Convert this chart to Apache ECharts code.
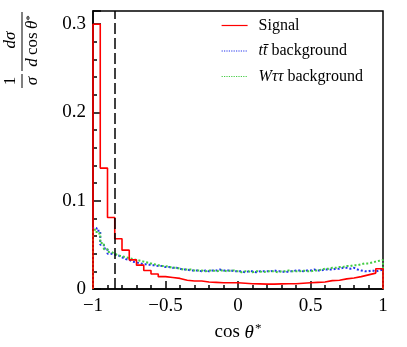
<!DOCTYPE html>
<html>
<head>
<meta charset="utf-8">
<script src="https://cdn.jsdelivr.net/npm/echarts@6/dist/echarts.min.js"></script>
<style>
html, body { margin: 0; padding: 0; background: #fff; }
#chart { width: 407px; height: 347px; }
</style>
</head>
<body>
<div id="chart"></div>
<script>
// cos theta* distributions, normalised
var xLow = -1;
var signalBinWidth = 0.05;
var bgBinWidth = 0.025;
var cutValue = -0.85;

var signal = [
  0.300, 0.137, 0.081, 0.057, 0.044, 0.033, 0.027, 0.021, 0.017, 0.014,
  0.013, 0.012, 0.010, 0.009, 0.009, 0.008, 0.0075, 0.007, 0.007, 0.007,
  0.0065, 0.006, 0.0058, 0.0055, 0.0055, 0.0058, 0.006, 0.006, 0.0065, 0.007,
  0.0075, 0.008, 0.0095, 0.010, 0.0115, 0.0125, 0.014, 0.016, 0.018, 0.023
];

var ttbar = [
  0.069, 0.066, 0.050, 0.046, 0.040, 0.039, 0.038, 0.036, 0.034, 0.033,
  0.031, 0.030, 0.029, 0.028, 0.028, 0.027, 0.027, 0.026, 0.026, 0.025,
  0.025, 0.024, 0.024, 0.023, 0.022, 0.022, 0.021, 0.021,
  0.021, 0.020, 0.021, 0.020, 0.021, 0.021, 0.022, 0.021,
  0.021, 0.021, 0.020, 0.020,
  0.020, 0.019, 0.020, 0.020, 0.019, 0.020, 0.020, 0.020,
  0.020, 0.021, 0.020, 0.020, 0.019, 0.020, 0.020, 0.021,
  0.021, 0.020, 0.021, 0.021, 0.022, 0.021, 0.021, 0.022,
  0.022, 0.022, 0.023, 0.023, 0.024, 0.024, 0.023, 0.024,
  0.022, 0.021, 0.020, 0.020, 0.021, 0.020, 0.021, 0.022
];

var wtautau = [
  0.067, 0.063, 0.052, 0.045, 0.042, 0.040, 0.038, 0.037, 0.036, 0.035,
  0.034, 0.033, 0.032, 0.031, 0.030, 0.029, 0.028, 0.027, 0.026, 0.026,
  0.025, 0.024, 0.024, 0.023, 0.022, 0.022, 0.022, 0.021,
  0.021, 0.021, 0.020, 0.021, 0.021, 0.020, 0.021, 0.021,
  0.020, 0.021, 0.021, 0.020,
  0.019, 0.020, 0.020, 0.019, 0.020, 0.020, 0.019, 0.020,
  0.020, 0.020, 0.019, 0.020, 0.020, 0.021, 0.020, 0.020,
  0.020, 0.021, 0.020, 0.020, 0.021, 0.021, 0.022, 0.023,
  0.023, 0.024, 0.024, 0.025, 0.025, 0.026, 0.026, 0.027,
  0.027, 0.028, 0.029, 0.029, 0.030, 0.031, 0.032, 0.033
];

var xTickLabels = ['\u22121', '\u22120.5', '0', '0.5', '1'];
var yTickLabels = ['0', '0.1', '0.2', '0.3'];

var legendNames = ['Signal', 'ttbar', 'Wtautau'];
var legendTexts = {
  'Signal': 'Signal',
  'ttbar': '{i|t\u0074\u0304} background',
  'Wtautau': '{i|W\u03c4\u03c4} background'
};

// step outline of a histogram
function histPoints(vals, lo, w) {
  var pts = [[lo, 0]];
  for (var i = 0; i < vals.length; i++) {
    pts.push([lo + i * w, vals[i]]);
  }
  var hi = lo + vals.length * w;
  pts.push([hi, vals[vals.length - 1]]);
  pts.push([hi, 0]);
  return pts;
}

var serif = '"Liberation Serif", "DejaVu Serif", serif';
var chart = echarts.init(document.getElementById('chart'));

var option = {
  animation: false,
  grid: {
    left: 93, right: 24, top: 11, bottom: 54,
    show: true, borderColor: '#000', borderWidth: 1.5, backgroundColor: 'transparent'
  },
  legend: {
    orient: 'vertical',
    left: 216,
    top: 12,
    itemWidth: 26,
    itemHeight: 14,
    itemGap: 8.5,
    data: legendNames,
    itemStyle: { opacity: 0 },
    lineStyle: { width: 1.2 },
    formatter: function (name) { return legendTexts[name]; },
    textStyle: {
      fontFamily: serif, fontSize: 16, lineHeight: 17, color: '#000', padding: [0, 0, 0, 6],
      rich: { i: { fontFamily: serif, fontSize: 16, lineHeight: 17, fontStyle: 'italic', color: '#000' } }
    }
  },
  xAxis: {
    type: 'value',
    min: -1, max: 1, interval: 0.5,
    name: '{r|cos }{i|\u03b8}{s|*}',
    nameLocation: 'middle',
    nameGap: 33,
    nameTextStyle: {
      rich: {
        r: { fontFamily: serif, fontSize: 19, color: '#000' },
        i: { fontFamily: serif, fontSize: 19, fontStyle: 'italic', color: '#000' },
        s: { fontFamily: serif, fontSize: 13, color: '#000', verticalAlign: 'top', padding: [0, 0, 8, 1] }
      }
    },
    axisLine: { onZero: false, lineStyle: { color: '#000', width: 1.5 } },
    axisTick: { inside: true, length: 8, lineStyle: { color: '#000', width: 1.5 } },
    minorTick: { show: true, splitNumber: 5, length: 4, lineStyle: { color: '#000', width: 1.5 } },
    splitLine: { show: false },
    axisLabel: {
      margin: 8,
      fontFamily: serif, fontSize: 19, color: '#000',
      formatter: function (v) { return xTickLabels[Math.round((v + 1) * 2)]; }
    }
  },
  yAxis: {
    type: 'value',
    min: 0, max: 0.315, interval: 0.1,
    axisLine: { show: true, onZero: false, lineStyle: { color: '#000', width: 1.5 } },
    axisTick: { inside: true, length: 8, lineStyle: { color: '#000', width: 1.5 } },
    minorTick: { show: true, splitNumber: 5, length: 4, lineStyle: { color: '#000', width: 1.5 } },
    splitLine: { show: false },
    axisLabel: {
      margin: 7,
      fontFamily: serif, fontSize: 19, color: '#000',
      formatter: function (v) {
        var k = Math.round(v * 10);
        return Math.abs(v * 10 - k) < 1e-6 ? yTickLabels[k] : '';
      }
    }
  },
  graphic: [{
    type: 'group',
    x: 22, y: 90,
    rotation: Math.PI / 2,
    children: [
      { type: 'text', x: 9, y: -11, style: { text: '1', fontFamily: serif, fontSize: 17, fill: '#000', align: 'center', verticalAlign: 'middle', textAlign: 'center', textVerticalAlign: 'middle' } },
      { type: 'line', shape: { x1: 2, y1: 0, x2: 16, y2: 0 }, style: { stroke: '#000', lineWidth: 1 } },
      { type: 'text', x: 9, y: 11, style: { text: '\u03c3', fontFamily: serif, fontSize: 17, fontStyle: 'italic', fill: '#000', align: 'center', verticalAlign: 'middle', textAlign: 'center', textVerticalAlign: 'middle' } },
      { type: 'text', x: 50, y: -11, style: { text: 'd\u03c3', fontFamily: serif, fontSize: 17, fontStyle: 'italic', fill: '#000', align: 'center', verticalAlign: 'middle', textAlign: 'center', textVerticalAlign: 'middle' } },
      { type: 'line', shape: { x1: 19, y1: 0, x2: 78, y2: 0 }, style: { stroke: '#000', lineWidth: 1 } },
      { type: 'text', x: 49, y: 11, style: {
        text: '{i|d} {r|cos} {i|\u03b8}{s|*}',
        align: 'center', verticalAlign: 'middle', textAlign: 'center', textVerticalAlign: 'middle',
        rich: {
          i: { fontFamily: serif, fontSize: 17, fontStyle: 'italic', fill: '#000', color: '#000' },
          r: { fontFamily: serif, fontSize: 17, fill: '#000', color: '#000' },
          s: { fontFamily: serif, fontSize: 11, fill: '#000', color: '#000', verticalAlign: 'top' }
        }
      } }
    ]
  }],
  series: [
    {
      name: 'ttbar',
      type: 'line',
      step: 'end',
      symbol: 'none',
      data: histPoints(ttbar, xLow, bgBinWidth),
      lineStyle: { color: '#2233ee', width: 2, type: 'dotted' },
      itemStyle: { color: '#2233ee' },
      z: 2
    },
    {
      name: 'Wtautau',
      type: 'line',
      step: 'end',
      symbol: 'none',
      data: histPoints(wtautau, xLow, bgBinWidth),
      lineStyle: { color: '#44cc44', width: 2, type: 'dotted' },
      itemStyle: { color: '#44cc44' },
      z: 2
    },
    {
      name: 'Signal',
      type: 'line',
      step: 'end',
      symbol: 'none',
      data: histPoints(signal, xLow, signalBinWidth),
      lineStyle: { color: '#ff0000', width: 1.6 },
      itemStyle: { color: '#ff0000' },
      z: 3,
      markLine: {
        silent: true,
        symbol: 'none',
        label: { show: false },
        lineStyle: { color: '#000', type: [11, 4], width: 1.5 },
        data: [{ xAxis: cutValue }]
      }
    }
  ]
};

chart.setOption(option);
</script>
</body>
</html>
